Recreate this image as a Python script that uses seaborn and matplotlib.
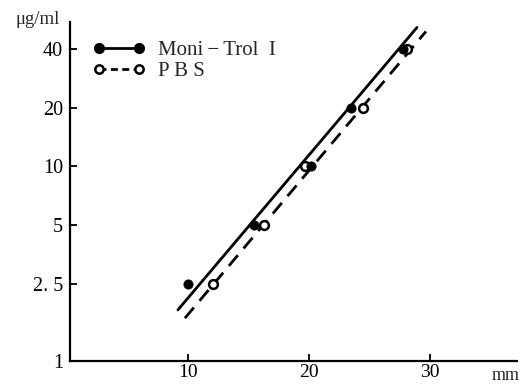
import numpy as np
import pandas as pd
import matplotlib
matplotlib.use("Agg")
import matplotlib.pyplot as plt
from matplotlib.lines import Line2D
import seaborn as sns

# Zone diameter (mm) against concentration (ug/ml) for two diluents
conc = [2.5, 5, 10, 20, 40]
moni_mm = [10.0, 15.5, 20.2, 23.5, 27.8]
pbs_mm = [12.1, 16.3, 19.7, 24.5, 28.1]

# Straight lines drawn through each series (end points)
moni_line_mm = [9.17, 28.93]
moni_line_conc = [1.83, 51.7]
pbs_line_mm = [9.75, 29.67]
pbs_line_conc = [1.66, 49.3]

y_ticks = [1, 2.5, 5, 10, 20, 40]
y_tick_labels = ["1", "2. 5", "5", "10", "20", "40"]
x_ticks = [10, 20, 30]
series_labels = ["Moni\u2009\u2212\u2009Trol  I", "P B S"]

sns.set_theme(style="ticks")
plt.rcParams["font.family"] = ["Liberation Serif", "DejaVu Serif"]
plt.rcParams["mathtext.fontset"] = "dejavuserif"

fig = plt.figure(figsize=(5.26, 3.85), dpi=100)
ax = fig.add_axes([0.133, 0.0623, 0.850, 0.880])

lines = pd.concat([
    pd.DataFrame({"mm": moni_line_mm, "conc": moni_line_conc, "s": series_labels[0]}),
    pd.DataFrame({"mm": pbs_line_mm, "conc": pbs_line_conc, "s": series_labels[1]}),
])
sns.lineplot(data=lines[lines.s == series_labels[0]], x="mm", y="conc", ax=ax,
             color="black", lw=2.0, legend=False)
sns.lineplot(data=lines[lines.s == series_labels[1]], x="mm", y="conc", ax=ax,
             color="black", lw=2.0, legend=False, dashes=False)
ax.lines[-1].set_dashes([5, 3.2])

pts_pbs = pd.DataFrame({"mm": pbs_mm, "conc": conc})
pts_moni = pd.DataFrame({"mm": moni_mm, "conc": conc})
sns.scatterplot(data=pts_pbs, x="mm", y="conc", ax=ax, s=40, color="white",
                edgecolor="black", linewidth=1.8, zorder=4, legend=False)
sns.scatterplot(data=pts_moni, x="mm", y="conc", ax=ax, s=45, color="black",
                edgecolor="black", linewidth=0.5, zorder=5, legend=False)

ax.set_yscale("log")
ax.set_ylim(1, 55)
ax.set_xlim(0.25, 37.2)
ax.set_yticks(y_ticks)
ax.set_yticklabels(y_tick_labels)
ax.yaxis.set_minor_locator(matplotlib.ticker.NullLocator())
ax.set_xticks(x_ticks)
ax.set_xticklabels([str(t) for t in x_ticks])
ax.set_xlabel("")
ax.set_ylabel("")
ax.tick_params(direction="in", length=5, width=1.3, color="black",
               labelcolor="black")
ax.tick_params(axis="y", labelsize=14.5, pad=5)
ax.tick_params(axis="x", labelsize=14, pad=2)
for side in ("top", "right"):
    ax.spines[side].set_visible(False)
for side in ("left", "bottom"):
    ax.spines[side].set_linewidth(1.6)
    ax.spines[side].set_color("black")

handles = [
    Line2D([], [], color="black", lw=2.0, ls="-", marker="o", ms=7,
           mfc="black", mec="black"),
    Line2D([], [], color="black", lw=2.0, ls=(0, (2.5, 1.6)), marker="o", ms=6,
           mfc="white", mec="black", mew=1.8),
]
ax.legend(handles, series_labels, loc="upper left", bbox_to_anchor=(0.052, 0.945),
          frameon=False, numpoints=2, handlelength=2.5, handletextpad=0.6,
          labelspacing=0.05, borderpad=0, borderaxespad=0, fontsize=15)

fig.text(38 / 526, 1 - 20 / 385, "\u03bcg/ml", ha="center", va="center",
         fontsize=13.5)
fig.text(506 / 526, 1 - 375 / 385, "mm", ha="center", va="center", fontsize=13)

fig.savefig("out.png", dpi=100)
